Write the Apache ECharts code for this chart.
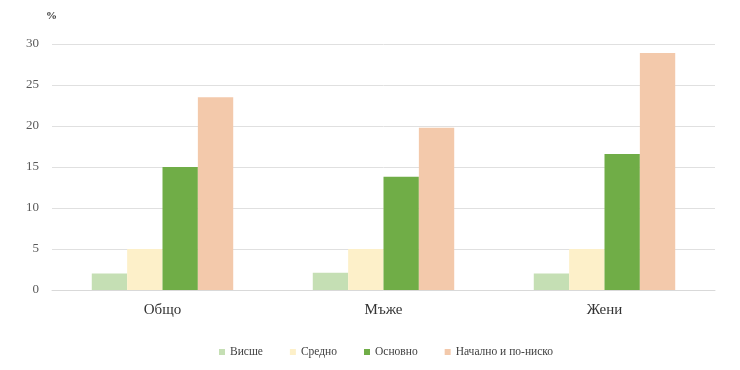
<!DOCTYPE html>
<html><head><meta charset="utf-8">
<script src="https://cdn.jsdelivr.net/npm/echarts@6/dist/echarts.min.js"></script>
<style>html,body{margin:0;padding:0;background:#fff}#c{width:740px;height:370px}</style>
</head><body><div id="c"></div>
<script>
const categories = ['Общо', 'Мъже', 'Жени'];
const seriesNames = ['Висше', 'Средно', 'Основно', 'Начално и по-ниско'];
const vissheValues = [2.0, 2.1, 2.0];
const srednoValues = [5.0, 5.0, 5.0];
const osnovnoValues = [15.0, 13.8, 16.6];
const nachalnoValues = [23.5, 19.8, 28.9];
const colors = ['#c5dfb4', '#fdf0c9', '#70ad47', '#f3c9ab'];
const allValues = [vissheValues, srednoValues, osnovnoValues, nachalnoValues];

const chart = echarts.init(document.getElementById('c'));
chart.setOption({
  animation: false,
  color: colors,
  grid: { left: 52, right: 25, top: 44, bottom: 80 },
  legend: {
    bottom: 7, left: 214, itemWidth: 6, itemHeight: 6, itemGap: 27,
    icon: 'rect',
    textStyle: { fontFamily: 'Liberation Serif', fontSize: 11.5, color: '#404040' },
    data: seriesNames
  },
  xAxis: {
    type: 'category', data: categories,
    axisLine: { lineStyle: { color: '#d9d9d9' } },
    axisTick: { show: false },
    axisLabel: { fontFamily: 'Liberation Serif', fontSize: 15, color: '#333', margin: 13 }
  },
  yAxis: {
    type: 'value', min: 0, max: 30, interval: 5,
    name: '%', nameLocation: 'end', nameGap: 22,
    nameTextStyle: { fontFamily: 'Liberation Serif', fontSize: 11, fontWeight: 'bold', color: '#333', align: 'left', padding: [0, 0, 0, -6] },
    axisLine: { show: false }, axisTick: { show: false },
    axisLabel: { fontFamily: 'Liberation Serif', fontSize: 13, color: '#595959', margin: 13 },
    splitLine: { lineStyle: { color: '#e0e0e0' } }
  },
  series: seriesNames.map((n, i) => ({
    name: n, type: 'bar', data: allValues[i],
    barGap: '0%', barCategoryGap: '36%'
  }))
});
</script></body></html>
